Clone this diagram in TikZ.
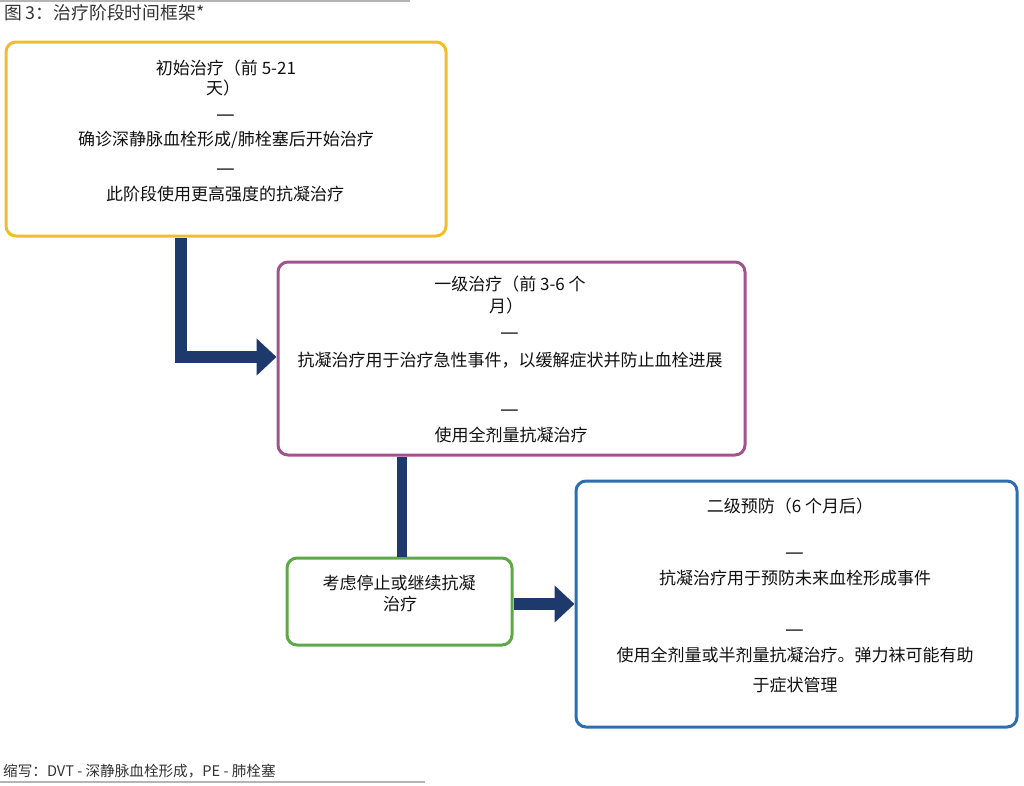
\documentclass[tikz,border=0pt]{standalone}
\usepackage{fontspec}
\setmainfont{Noto Sans CJK SC}
\usetikzlibrary{arrows.meta}
\definecolor{cyellow}{HTML}{F2BD2C}
\definecolor{cpurple}{HTML}{A1528F}
\definecolor{cgreen}{HTML}{60A847}
\definecolor{cblue}{HTML}{2E6DB0}
\definecolor{cnavy}{HTML}{1E3A6C}
\definecolor{ctext}{HTML}{111111}
\definecolor{ctitle}{HTML}{333333}
\definecolor{crule}{HTML}{B4B4B4}
\tikzset{
  box/.style={draw=#1, line width=3pt, rounded corners=10pt, fill=white, inner sep=0pt},
  txt/.style={inner sep=0pt, text=ctext, font=\fontsize{17}{20}\selectfont, anchor=center},
  dashtxt/.style={inner sep=0pt, text=ctext, font=\fontsize{21}{24}\selectfont, anchor=center},
  conn/.style={draw=cnavy, line width=#1, line join=miter},
  tip/.style={-{Triangle[length=20pt,width=36pt]}}
}
\begin{document}
\begin{tikzpicture}[x=1pt,y=-1pt]
\useasboundingbox (0,0) rectangle (1024,785);
% rules
\draw[crule, line width=2pt] (0,1) -- (410,1);
\draw[crule, line width=1.5pt] (0,782) -- (425,782);
% title and footer
\node[anchor=west, inner sep=0pt, text=ctitle, font=\fontsize{17.8}{20}\selectfont] (title) at (4,13) {图 3：治疗阶段时间框架*};
\node[anchor=west, inner sep=0pt, text=ctitle, font=\fontsize{14.6}{17}\selectfont] (foot) at (3,771) {缩写：DVT - 深静脉血栓形成，PE - 肺栓塞};
% boxes
\node[box=cyellow, minimum width=440pt, minimum height=194pt] (yel) at (226,139) {};
\node[box=cpurple, minimum width=467pt, minimum height=193pt] (pur) at (511.5,358.5) {};
\node[box=cgreen, minimum width=225pt, minimum height=87pt] (grn) at (399.5,601.5) {};
\node[box=cblue, minimum width=441pt, minimum height=246pt] (blu) at (796.5,604) {};
% connectors
\coordinate (c1) at (181,357);
\draw[conn=12pt, tip] (yel.south -| c1) |- (pur.west |- c1);
\coordinate (c2) at (402,500);
\draw[conn=10pt] (pur.south -| c2) -- (grn.north -| c2);
\coordinate (c3) at (540,604);
\draw[conn=12pt, tip] (grn.east |- c3) -- (blu.west |- c3);
% yellow text
\node[txt] (y1) at (226,68) {初始治疗（前 5-21};
\node[txt] (y2) at (223,88) {天）};
\node[dashtxt] (y3) at (226,118) {—};
\node[txt] (y4) at (226,140) {确诊深静脉血栓形成/肺栓塞后开始治疗};
\node[dashtxt] (y5) at (226,172) {—};
\node[txt] (y6) at (225,194) {此阶段使用更高强度的抗凝治疗};
% purple text
\node[txt] (p1) at (510,284) {一级治疗（前 3-6 个};
\node[txt] (p2) at (506,306) {月）};
\node[dashtxt] (p3) at (510,336) {—};
\node[txt] (p4) at (510,360) {抗凝治疗用于治疗急性事件，以缓解症状并防止血栓进展};
\node[dashtxt] (p5) at (510,413) {—};
\node[txt] (p6) at (511,435) {使用全剂量抗凝治疗};
% green text
\node[txt] (g1) at (399,583) {考虑停止或继续抗凝};
\node[txt] (g2) at (400,604) {治疗};
% blue text
\node[txt] (b1) at (790,506) {二级预防（6 个月后）};
\node[dashtxt] (b2) at (795,556) {—};
\node[txt] (b3) at (795,578) {抗凝治疗用于预防未来血栓形成事件};
\node[dashtxt] (b4) at (795,633) {—};
\node[txt] (b5) at (795,655) {使用全剂量或半剂量抗凝治疗。弹力袜可能有助};
\node[txt] (b6) at (795,685) {于症状管理};
\end{tikzpicture}
\end{document}
